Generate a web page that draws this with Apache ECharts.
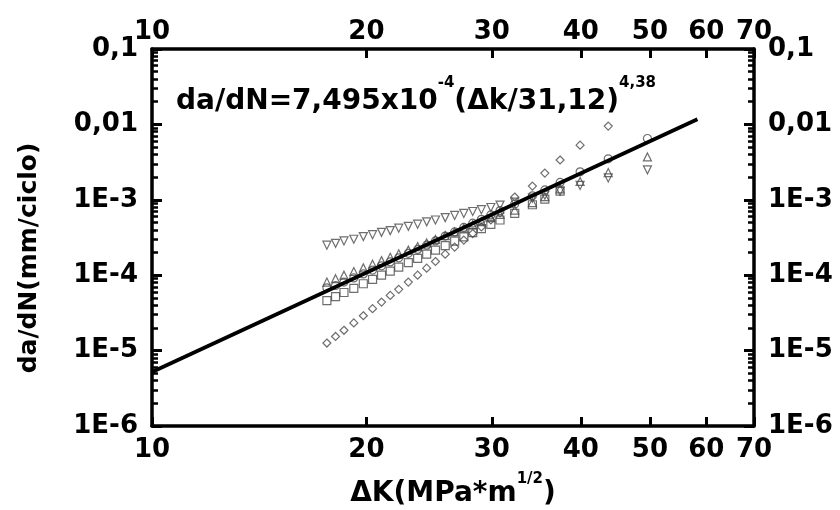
<!DOCTYPE html>
<html>
<head>
<meta charset="utf-8">
<script src="https://cdn.jsdelivr.net/npm/echarts@6/dist/echarts.min.js"></script>
<style>
html, body { margin: 0; padding: 0; background: #fff; }
#chartmain { width: 840px; height: 510px; }
</style>
</head>
<body>
<div id="chartmain"></div>
<script>
// tick values (real units, axes are drawn on log10 of them)
var xTicks = [10, 20, 30, 40, 50, 60, 70];
var yTicks = [1e-6, 1e-5, 1e-4, 1e-3, 1e-2, 1e-1];
var yTickLabels = ['1E-6', '1E-5', '1E-4', '1E-3', '0,01', '0,1'];

// ΔK values of the measured points
var dkDense = [17.6, 18.1, 18.6, 19.2, 19.8, 20.4, 21.0, 21.6, 22.2, 22.9,
	23.6, 24.3, 25.0, 25.8, 26.6, 27.4, 28.2, 29.0, 29.9, 30.8];
var dkTail = [32.3, 34.2, 35.6, 37.4, 39.9, 43.7, 49.6];

// da/dN, one array per specimen
var downTri = [2.5e-4, 2.65e-4, 2.85e-4, 3.0e-4, 3.25e-4, 3.45e-4, 3.7e-4, 3.9e-4, 4.2e-4, 4.45e-4,
	4.75e-4, 5.1e-4, 5.4e-4, 5.8e-4, 6.2e-4, 6.6e-4, 7.0e-4, 7.4e-4, 7.9e-4, 8.5e-4,
	9.3e-4, 1.05e-3, 1.15e-3, 1.3e-3, 1.55e-3, 1.95e-3, 2.5e-3];
var upTri = [8.1e-5, 9.0e-5, 1.0e-4, 1.12e-4, 1.25e-4, 1.4e-4, 1.56e-4, 1.73e-4, 1.92e-4, 2.15e-4,
	2.4e-4, 2.68e-4, 2.98e-4, 3.35e-4, 3.75e-4, 4.2e-4, 4.65e-4, 5.15e-4, 5.8e-4, 6.4e-4,
	7.3e-4, 9.2e-4, 1.1e-3, 1.4e-3, 1.75e-3, 2.3e-3, 3.7e-3];
var circles = [6.8e-5, 7.3e-5, 8.1e-5, 9.2e-5, 1.04e-4, 1.17e-4, 1.33e-4, 1.5e-4, 1.7e-4, 1.95e-4,
	2.2e-4, 2.5e-4, 2.85e-4, 3.3e-4, 3.75e-4, 4.3e-4, 4.9e-4, 5.5e-4, 6.3e-4, 7.2e-4,
	8.8e-4, 1.13e-3, 1.35e-3, 1.7e-3, 2.35e-3, 3.5e-3, 6.5e-3];
var squares = [4.6e-5, 5.2e-5, 5.9e-5, 6.7e-5, 7.7e-5, 8.8e-5, 1.0e-4, 1.13e-4, 1.28e-4, 1.47e-4,
	1.67e-4, 1.9e-4, 2.15e-4, 2.47e-4, 2.83e-4, 3.23e-4, 3.66e-4, 4.14e-4, 4.73e-4, 5.4e-4,
	6.6e-4, 8.6e-4, 1.02e-3, 1.3e-3];
var diamonds = [1.26e-5, 1.54e-5, 1.86e-5, 2.33e-5, 2.9e-5, 3.6e-5, 4.4e-5, 5.4e-5, 6.5e-5, 8.1e-5,
	1.0e-4, 1.24e-4, 1.52e-4, 1.9e-4, 2.36e-4, 2.92e-4, 3.57e-4, 4.36e-4, 5.4e-4, 6.7e-4,
	1.09e-3, 1.52e-3, 2.26e-3, 3.37e-3, 5.3e-3, 9.5e-3];

// fitted Paris line, end points
var fitDk = [10, 58.3];
var fitRate = [5.2e-6, 1.17e-2];

var lg = Math.log10;
var font = 'DejaVu Sans';

function pts(xs, ys) {
	var out = [];
	for (var i = 0; i < ys.length; i++) {
		out.push([lg(xs[i]), lg(ys[i])]);
	}
	return out;
}

var dkAll = dkDense.concat(dkTail);

// minor ticks 2..9 in every decade
var yMinor = [];
for (var d = -6; d < -1; d++) {
	for (var k = 2; k < 10; k++) {
		yMinor.push(lg(k * Math.pow(10, d)));
	}
}

function xAxisDef(pos) {
	return {
		type : 'value',
		position : pos,
		min : lg(10),
		max : lg(70),
		axisLine : { show : true, lineStyle : { color : '#000', width : 3.5 } },
		axisTick : {
			show : true,
			inside : true,
			length : 9,
			customValues : xTicks.map(lg),
			lineStyle : { color : '#000', width : 3 }
		},
		axisLabel : {
			customValues : xTicks.map(lg),
			formatter : function(v) { return Math.round(Math.pow(10, v)); },
			color : '#000',
			fontFamily : font,
			fontWeight : 'bold',
			fontSize : 26,
			margin : pos === 'top' ? 4 : 11
		},
		splitLine : { show : false }
	};
}

function yAxisDef(pos, minor) {
	var ticks = minor ? yMinor : yTicks.map(lg);
	return {
		type : 'value',
		position : pos,
		min : -6,
		max : -1,
		axisLine : { show : !minor, lineStyle : { color : '#000', width : 3.5 } },
		axisTick : {
			show : true,
			inside : true,
			length : minor ? 6 : 10,
			customValues : ticks,
			lineStyle : { color : '#000', width : minor ? 2.5 : 3 }
		},
		axisLabel : {
			show : !minor,
			customValues : yTicks.map(lg),
			formatter : function(v) {
				for (var i = 0; i < yTicks.length; i++) {
					if (Math.abs(lg(yTicks[i]) - v) < 1e-6) return yTickLabels[i];
				}
				return '';
			},
			color : '#000',
			fontFamily : font,
			fontWeight : 'bold',
			fontSize : 26,
			margin : 14
		},
		splitLine : { show : false }
	};
}

function markers(name, symbol, rotate, data) {
	return {
		name : name,
		type : 'scatter',
		symbol : symbol,
		symbolRotate : rotate,
		symbolSize : 8,
		itemStyle : {
			color : 'rgba(0,0,0,0)',
			borderColor : '#4a4a4a',
			borderWidth : 1.2
		},
		data : data
	};
}

var option = {
	animation : false,
	backgroundColor : '#fff',
	grid : { left : 152, right : 86, top : 49, bottom : 84 },
	xAxis : [ xAxisDef('bottom'), xAxisDef('top') ],
	yAxis : [ yAxisDef('left', false), yAxisDef('right', false),
		yAxisDef('left', true), yAxisDef('right', true) ],
	graphic : [ {
		type : 'text',
		left : 176,
		top : 76,
		style : {
			text : '{m|da/dN=7,495x10}{s|-4}{m|(\u0394k/31,12)}{s|4,38}',
			rich : {
				m : { fontFamily : font, fontWeight : 'bold', fontSize : 28, lineHeight : 40, verticalAlign : 'bottom', fill : '#000' },
				s : { fontFamily : font, fontWeight : 'bold', fontSize : 15, lineHeight : 40, verticalAlign : 'top', fill : '#000' }
			}
		}
	}, {
		type : 'text',
		x : 29,
		y : 258,
		rotation : Math.PI / 2,
		style : {
			text : 'da/dN(mm/ciclo)',
			align : 'center',
			verticalAlign : 'middle',
			fontFamily : font,
			fontWeight : 'bold',
			fontSize : 25,
			fill : '#000'
		}
	}, {
		type : 'text',
		x : 453,
		y : 472,
		style : {
			text : '{m|\u0394K(MPa*m}{s|1/2}{m|)}',
			align : 'center',
			rich : {
				m : { fontFamily : font, fontWeight : 'bold', fontSize : 28, lineHeight : 36, verticalAlign : 'bottom', fill : '#000' },
				s : { fontFamily : font, fontWeight : 'bold', fontSize : 15, lineHeight : 36, verticalAlign : 'top', fill : '#000' }
			}
		}
	} ],
	series : [
		markers('A', 'triangle', 180, pts(dkAll, downTri)),
		markers('B', 'triangle', 0, pts(dkAll, upTri)),
		markers('C', 'circle', 0, pts(dkAll, circles)),
		markers('D', 'rect', 0, pts(dkAll, squares)),
		markers('E', 'diamond', 0, pts(dkAll, diamonds)),
		{
			name : 'ajuste',
			type : 'line',
			data : pts(fitDk, fitRate),
			showSymbol : false,
			lineStyle : { color : '#000', width : 3.8 },
			z : 5
		}
	]
};

var myChart = echarts.init(document.getElementById('chartmain'));
myChart.setOption(option);
</script>
</body>
</html>
